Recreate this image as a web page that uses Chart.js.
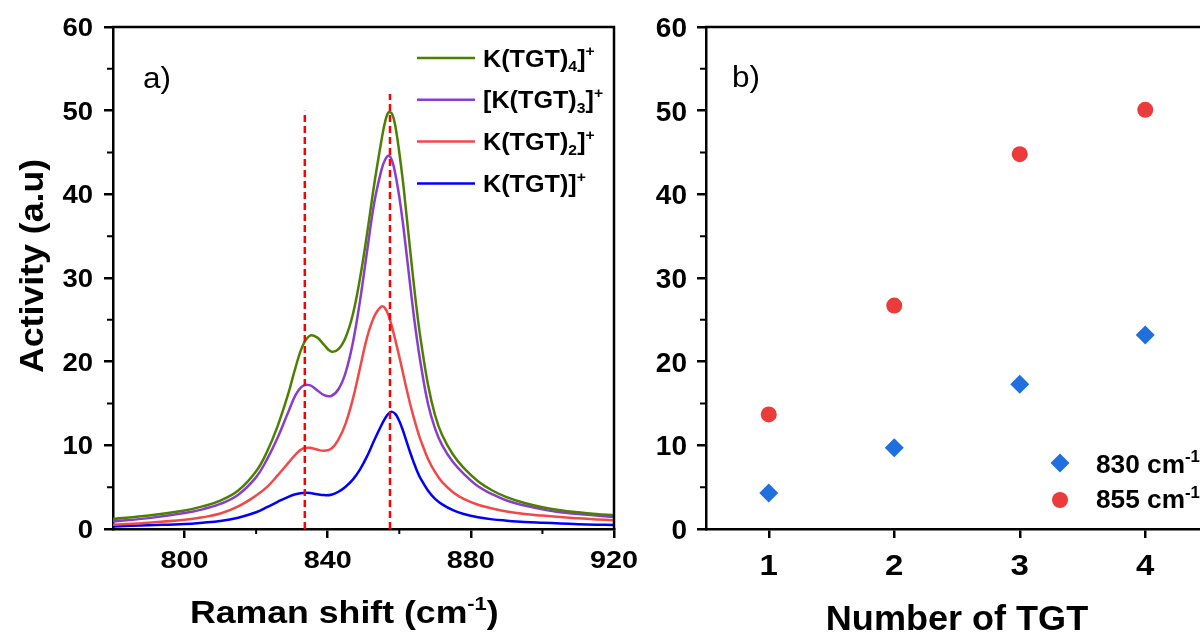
<!DOCTYPE html>
<html>
<head>
<meta charset="utf-8">
<script src="https://cdn.jsdelivr.net/npm/chart.js@4.4.1/dist/chart.umd.min.js"></script>
<style>
  html, body { margin: 0; padding: 0; background: #fff; overflow: hidden; }
  #wrap { position: relative; width: 1200px; height: 633px; overflow: hidden; }
  #left { position: absolute; left: 0; top: 0; width: 640px; height: 633px; }
  #right { position: absolute; left: 640px; top: 0; width: 640px; height: 633px; }
</style>
</head>
<body>
<div id="wrap">
  <canvas id="left" width="640" height="633"></canvas>
  <canvas id="right" width="640" height="633"></canvas>
</div>
<script>
// ===================================
// DATA
// ===================================

// panel a) - Raman spectra
const ramanShift = [780, 790, 800, 805, 810, 815, 820, 823, 826, 829, 831, 833, 835, 837, 839, 841,
                    843, 845, 847, 849, 851, 853, 855, 856, 857, 858, 859, 860, 861, 862, 863, 864,
                    865, 866, 868, 870, 872, 875, 878, 882, 886, 890, 895, 900, 905, 910, 915, 920];

const tgt4 = [1.2, 1.6, 2.2, 2.7, 3.4, 4.6, 6.9, 9.2, 12.3, 16.2, 19.3, 21.9, 23.1, 22.9, 22.0, 21.2,
              21.5, 22.9, 25.6, 29.9, 35.3, 41.2, 46.4, 48.6, 49.8, 49.6, 47.9, 45.0, 41.6, 37.6, 33.5, 29.5,
              25.8, 22.6, 17.3, 13.6, 11.2, 8.9, 7.3, 5.7, 4.6, 3.8, 3.1, 2.6, 2.25, 2.0, 1.8, 1.65];

const tgt3 = [0.9, 1.3, 1.9, 2.35, 3.0, 4.1, 6.2, 8.3, 10.9, 14.0, 16.0, 17.1, 17.2, 16.6, 16.0, 15.9,
              16.7, 18.7, 22.2, 27.2, 33.2, 39.0, 42.9, 44.1, 44.6, 44.0, 42.2, 39.7, 36.6, 33.0, 29.3, 25.7,
              22.5, 19.7, 15.0, 12.0, 10.0, 8.0, 6.6, 5.1, 4.15, 3.4, 2.8, 2.35, 2.0, 1.8, 1.6, 1.45];

const tgt2 = [0.5, 0.75, 1.1, 1.4, 1.85, 2.7, 4.0, 5.0, 6.4, 7.9, 8.9, 9.6, 9.7, 9.5, 9.35, 9.6,
              10.7, 12.6, 15.5, 19.2, 22.9, 25.4, 26.6, 26.4, 25.5, 24.1, 22.4, 20.6, 18.7, 16.8, 15.0, 13.4,
              11.9, 10.6, 8.4, 6.8, 5.6, 4.4, 3.6, 2.9, 2.45, 2.1, 1.8, 1.6, 1.42, 1.28, 1.15, 1.05];

const tgt1 = [0.3, 0.45, 0.6, 0.75, 0.95, 1.35, 2.0, 2.6, 3.25, 3.85, 4.15, 4.3, 4.3, 4.15, 4.05, 4.1,
              4.45, 5.05, 5.9, 7.1, 8.7, 10.6, 12.4, 13.2, 13.8, 14.0, 13.7, 12.9, 11.8, 10.5, 9.2, 8.0,
              6.9, 6.0, 4.6, 3.6, 2.95, 2.25, 1.8, 1.4, 1.15, 1.0, 0.85, 0.75, 0.66, 0.58, 0.52, 0.48];

// dashed guide lines (position, top value)
const guideShift = [833.6, 857.4];
const guideTop = [50, 52];

// panel b) - peak activity vs number of TGT
const tgtCount = [1, 2, 3, 4];
const peak830 = [4.3, 9.7, 17.3, 23.2];
const peak855 = [13.7, 26.7, 44.8, 50.1];

// ticks
const yMajor = [0, 10, 20, 30, 40, 50, 60];
const yMinor = [5, 15, 25, 35, 45, 55];
const xMajorA = [800, 840, 880, 920];
const xMinorA = [820, 860, 900];
const xMajorB = [1, 2, 3, 4];

// ===================================
// HELPERS
// ===================================

const FONT = '"Liberation Sans", Arial, sans-serif';
const GREEN = '#4d8000';
const PURPLE = '#8a3ccc';
const RED = '#f24848';
const BLUE = '#0000ff';

// draw text with optional horizontal stretch
function putText(ctx, text, x, y, size, weight, align, sx) {
    ctx.save();
    ctx.font = weight + ' ' + size + 'px ' + FONT;
    ctx.translate(x, y);
    ctx.scale(sx || 1, 1);
    ctx.textAlign = align;
    ctx.textBaseline = 'alphabetic';
    ctx.fillStyle = '#000';
    ctx.fillText(text, 0, 0);
    ctx.restore();
}

// text made of normal / sub / sup pieces
function richText(ctx, parts, x, y, size, weight, sx) {
    ctx.save();
    ctx.translate(x, y);
    ctx.scale(sx || 1, 1);
    ctx.fillStyle = '#000';
    ctx.textBaseline = 'alphabetic';
    ctx.textAlign = 'left';
    let cx = 0;
    parts.forEach(([t, kind]) => {
        const s = kind === 'n' ? size : Math.round(size * 0.62);
        const dy = kind === 'sub' ? size * 0.2 : (kind === 'sup' ? -size * 0.42 : 0);
        ctx.font = weight + ' ' + s + 'px ' + FONT;
        ctx.fillText(t, cx, dy);
        cx += ctx.measureText(t).width;
    });
    ctx.restore();
}

function toPoints(xs, ys) {
    return xs.map((x, i) => ({ x: x, y: ys[i] }));
}

// frame, minor ticks and tick labels
const axisDeco = {
    id: 'axisDeco',
    afterDraw(chart, args, o) {
        const ctx = chart.ctx;
        const { left, right, top, bottom } = chart.chartArea;
        const xs = chart.scales.x, ys = chart.scales.y;
        ctx.save();
        ctx.strokeStyle = '#000';
        ctx.lineWidth = 2.5;
        ctx.beginPath();
        ctx.moveTo(left - 1.25, top);
        ctx.lineTo(right, top);
        ctx.lineTo(right, bottom + 1.25);
        ctx.stroke();

        ctx.lineWidth = 2;
        ctx.beginPath();
        o.xMinor.forEach(v => {
            const px = xs.getPixelForValue(v);
            ctx.moveTo(px, bottom);
            ctx.lineTo(px, bottom + 5);
        });
        o.yMinor.forEach(v => {
            const py = ys.getPixelForValue(v);
            ctx.moveTo(left, py);
            ctx.lineTo(left - 6, py);
        });
        ctx.stroke();
        ctx.restore();

        o.xMajor.forEach(v => {
            putText(ctx, String(v), xs.getPixelForValue(v), o.xLabelBase, o.xSize, 'bold', 'center', o.xStretch);
        });
        yMajor.forEach(v => {
            const py = ys.getPixelForValue(v) + o.ySize * 0.358;
            putText(ctx, String(v), o.yLabelRight, py, o.ySize, 'bold', 'right', o.yStretch);
        });
    }
};

// ===================================
// PANEL A
// ===================================

const legendA = [
    { color: GREEN, parts: [['K(TGT)', 'n'], ['4', 'sub'], [']', 'n'], ['+', 'sup']] },
    { color: PURPLE, parts: [['[K(TGT)', 'n'], ['3', 'sub'], [']', 'n'], ['+', 'sup']] },
    { color: RED, parts: [['K(TGT)', 'n'], ['2', 'sub'], [']', 'n'], ['+', 'sup']] },
    { color: BLUE, parts: [['K(TGT)]', 'n'], ['+', 'sup']] }
];

const panelA = {
    id: 'panelA',
    afterDraw(chart) {
        const ctx = chart.ctx;
        // legend
        legendA.forEach((row, i) => {
            const y = 58 + i * 41.8;
            ctx.save();
            ctx.strokeStyle = row.color;
            ctx.lineWidth = 2.5;
            ctx.beginPath();
            ctx.moveTo(417, y);
            ctx.lineTo(475, y);
            ctx.stroke();
            ctx.restore();
            richText(ctx, row.parts, 483, y + 8.5, 24, 'bold', 1.05);
        });
        // panel label
        putText(ctx, 'a)', 143, 88, 30, 'normal', 'left', 1.05);
        // axis titles
        richText(ctx, [['Raman shift (cm', 'n'], ['-1', 'sup'], [')', 'n']], 190, 623, 31, 'bold', 1.15);
        ctx.save();
        ctx.translate(43, 266);
        ctx.rotate(-Math.PI / 2);
        ctx.scale(1.05, 1);
        ctx.font = 'bold 34px ' + FONT;
        ctx.textAlign = 'center';
        ctx.textBaseline = 'alphabetic';
        ctx.fillStyle = '#000';
        ctx.fillText('Activity (a.u)', 0, 0);
        ctx.restore();
    }
};

const lineSet = (label, data, color) => ({
    label: label,
    data: toPoints(ramanShift, data),
    borderColor: color,
    borderWidth: 2.5,
    pointRadius: 0,
    tension: 0.4,
    order: 1
});

const guideSets = guideShift.map((x, i) => ({
    label: 'guide' + i,
    data: [{ x: x, y: 0 }, { x: x, y: guideTop[i] }],
    borderColor: '#ff0000',
    borderWidth: 2.5,
    borderDash: [7, 4],
    pointRadius: 0,
    tension: 0,
    order: 0
}));

const axisCommon = {
    grid: { drawOnChartArea: false, drawTicks: true, tickLength: 9, lineWidth: 2.5, color: '#000' },
    border: { display: true, color: '#000', width: 2.5 },
    ticks: { display: false }
};

new Chart(document.getElementById('left'), {
    type: 'line',
    data: {
        datasets: [
            ...guideSets,
            lineSet('K(TGT)4]+', tgt4, GREEN),
            lineSet('[K(TGT)3]+', tgt3, PURPLE),
            lineSet('K(TGT)2]+', tgt2, RED),
            lineSet('K(TGT)]+', tgt1, BLUE)
        ]
    },
    options: {
        responsive: false,
        animation: false,
        layout: { padding: { left: 0, top: 27, right: 26, bottom: 0 } },
        plugins: {
            legend: { display: false },
            tooltip: { enabled: false },
            axisDeco: {
                xMinor: xMinorA, yMinor: yMinor, xMajor: xMajorA,
                xLabelBase: 568, xSize: 24, xStretch: 1.2,
                yLabelRight: 93, ySize: 25, yStretch: 1.1
            }
        },
        scales: {
            x: {
                ...axisCommon,
                type: 'linear', min: 780, max: 920,
                afterBuildTicks: s => { s.ticks = xMajorA.map(v => ({ value: v })); },
                afterFit: s => { s.height = 104; }
            },
            y: {
                ...axisCommon,
                min: 0, max: 60,
                afterBuildTicks: s => { s.ticks = yMajor.map(v => ({ value: v })); },
                afterFit: s => { s.width = 113; }
            }
        }
    },
    plugins: [axisDeco, panelA]
});

// ===================================
// PANEL B
// ===================================

const panelB = {
    id: 'panelB',
    afterDraw(chart) {
        const ctx = chart.ctx;
        const { left, right } = chart.chartArea;
        // legend
        ctx.save();
        ctx.fillStyle = '#1f6fde';
        ctx.beginPath();
        ctx.moveTo(420, 463 - 9.5);
        ctx.lineTo(429.5, 463);
        ctx.lineTo(420, 463 + 9.5);
        ctx.lineTo(410.5, 463);
        ctx.closePath();
        ctx.fill();
        ctx.fillStyle = '#eb3b3b';
        ctx.beginPath();
        ctx.arc(420, 500, 8, 0, Math.PI * 2);
        ctx.fill();
        ctx.restore();
        richText(ctx, [['830 cm', 'n'], ['-1', 'sup']], 456, 472.5, 25, 'bold', 1.05);
        richText(ctx, [['855 cm', 'n'], ['-1', 'sup']], 456, 508, 25, 'bold', 1.05);
        // panel label
        putText(ctx, 'b)', 92, 87, 30, 'normal', 'left', 1.05);
        // axis title
        putText(ctx, 'Number of TGT', (left + right) / 2, 630, 35, 'bold', 'center', 1.03);
    }
};

new Chart(document.getElementById('right'), {
    type: 'scatter',
    data: {
        datasets: [
            {
                label: '830 cm-1',
                data: toPoints(tgtCount, peak830),
                pointStyle: 'rectRot',
                pointRadius: 9.5,
                backgroundColor: '#1f6fde',
                borderWidth: 0
            },
            {
                label: '855 cm-1',
                data: toPoints(tgtCount, peak855),
                pointStyle: 'circle',
                pointRadius: 8,
                backgroundColor: '#eb3b3b',
                borderWidth: 0
            }
        ]
    },
    options: {
        responsive: false,
        animation: false,
        layout: { padding: { left: 0, top: 27, right: 72, bottom: 0 } },
        plugins: {
            legend: { display: false },
            tooltip: { enabled: false },
            axisDeco: {
                xMinor: [], yMinor: yMinor, xMajor: xMajorB,
                xLabelBase: 575, xSize: 30, xStretch: 1.1,
                yLabelRight: 47, ySize: 28, yStretch: 1.0
            }
        },
        scales: {
            x: {
                ...axisCommon,
                type: 'linear', min: 0.5, max: 4.5,
                afterBuildTicks: s => { s.ticks = xMajorB.map(v => ({ value: v })); },
                afterFit: s => { s.height = 104; }
            },
            y: {
                ...axisCommon,
                min: 0, max: 60,
                afterBuildTicks: s => { s.ticks = yMajor.map(v => ({ value: v })); },
                afterFit: s => { s.width = 66; }
            }
        }
    },
    plugins: [axisDeco, panelB]
});
</script>
</body>
</html>
